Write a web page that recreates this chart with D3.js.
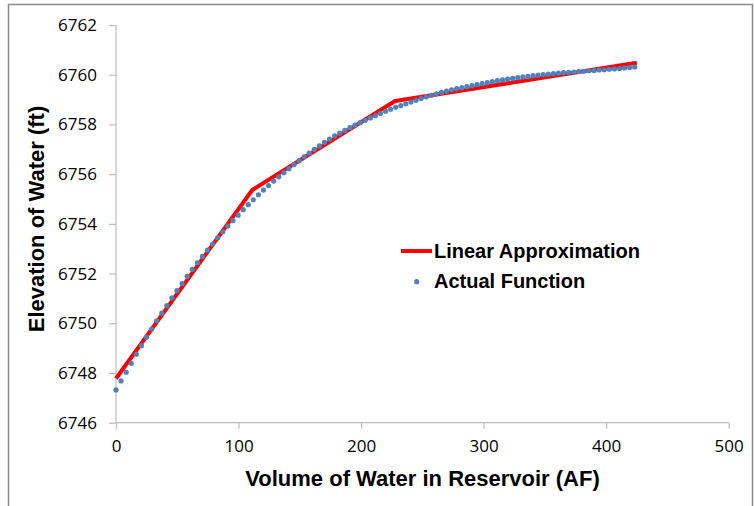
<!DOCTYPE html>
<meta charset="utf-8">
<head>
<title>Elevation vs Volume</title>
<script src="https://d3js.org/d3.v7.min.js"></script>
<style>
  body { margin: 0; background: #fff; }
  .tick text { font-family: "Open Sans", sans-serif; font-size: 17px; fill: #000; }
  .axis-title { font-family: "Liberation Sans", Arial, sans-serif; font-weight: bold; font-size: 22px; fill: #000; }
  .legend text { font-family: "Liberation Sans", Arial, sans-serif; font-weight: bold; font-size: 20px; fill: #000; }
</style>
</head>
<body>
<div id="chart"></div>
<script>
// actual function (dots)
var volume = [
  0, 4.15, 8.3, 12.45, 16.6, 20.75, 24.9, 29.05, 33.2, 37.35,
  41.5, 45.65, 49.8, 53.95, 58.1, 62.25, 66.4, 70.55, 74.7, 78.85,
  83, 87.15, 91.3, 95.45, 99.6, 103.75, 107.9, 112.05, 116.2, 120.35,
  124.5, 128.65, 132.8, 136.95, 141.1, 145.25, 149.4, 153.55, 157.7, 161.85,
  166, 170.15, 174.3, 178.45, 182.6, 186.75, 190.9, 195.05, 199.2, 203.35,
  207.5, 211.65, 215.8, 219.95, 224.1, 228.25, 232.4, 236.55, 240.7, 244.85,
  249, 253.15, 257.3, 261.45, 265.6, 269.75, 273.9, 278.05, 282.2, 286.35,
  290.5, 294.65, 298.8, 302.95, 307.1, 311.25, 315.4, 319.55, 323.7, 327.85,
  332, 336.15, 340.3, 344.45, 348.6, 352.75, 356.9, 361.05, 365.2, 369.35,
  373.5, 377.65, 381.8, 385.95, 390.1, 394.25, 398.4, 402.55, 406.7, 410.85,
  415, 419.15, 423.3
];
var elevation = [
  6747.32, 6747.68, 6748.03, 6748.39, 6748.75, 6749.10, 6749.44, 6749.77, 6750.10, 6750.41,
  6750.71, 6751.02, 6751.31, 6751.60, 6751.89, 6752.17, 6752.43, 6752.69, 6752.94, 6753.19,
  6753.44, 6753.68, 6753.91, 6754.13, 6754.35, 6754.57, 6754.77, 6754.97, 6755.17, 6755.36,
  6755.54, 6755.72, 6755.89, 6756.06, 6756.22, 6756.38, 6756.54, 6756.70, 6756.85, 6757.00,
  6757.14, 6757.28, 6757.41, 6757.54, 6757.65, 6757.76, 6757.87, 6757.97, 6758.07, 6758.17,
  6758.26, 6758.35, 6758.44, 6758.53, 6758.61, 6758.69, 6758.76, 6758.83, 6758.90, 6758.97,
  6759.04, 6759.11, 6759.17, 6759.23, 6759.29, 6759.34, 6759.39, 6759.44, 6759.48, 6759.52,
  6759.56, 6759.60, 6759.64, 6759.68, 6759.72, 6759.76, 6759.79, 6759.82, 6759.85, 6759.88,
  6759.91, 6759.93, 6759.96, 6759.98, 6760.00, 6760.02, 6760.04, 6760.06, 6760.08, 6760.10,
  6760.11, 6760.13, 6760.14, 6760.16, 6760.17, 6760.19, 6760.20, 6760.22, 6760.23, 6760.25,
  6760.27, 6760.29, 6760.31
];
// linear approximation (red)
var linVolume = [0, 111.2, 227.7, 425];
var linElevation = [6747.78, 6755.36, 6758.94, 6760.48];

var xTicks = [0, 100, 200, 300, 400, 500];
var yTicks = [6746, 6748, 6750, 6752, 6754, 6756, 6758, 6760, 6762];

var W = 755, H = 506;
var margin = {top: 25, right: 26.3, bottom: 83.3, left: 116};

var svg = d3.select("#chart").append("svg")
    .attr("width", W)
    .attr("height", H);

// outer frame
svg.append("rect")
    .attr("x", 8.5).attr("y", 4.5)
    .attr("width", 744).attr("height", 520)
    .attr("fill", "none")
    .attr("stroke", "#8a8a8a")
    .attr("stroke-width", 1.5);

var x = d3.scaleLinear().domain([0, 500]).range([margin.left, W - margin.right]);
var y = d3.scaleLinear().domain([6746, 6762]).range([H - margin.bottom, margin.top]);

var xAxis = svg.append("g")
    .attr("transform", "translate(0," + y(6746) + ")")
    .call(d3.axisBottom(x).tickValues(xTicks).tickSize(6).tickPadding(11).tickFormat(d3.format("d")));
var yAxis = svg.append("g")
    .attr("transform", "translate(" + x(0) + ",0)")
    .call(d3.axisLeft(y).tickValues(yTicks).tickSize(7).tickPadding(12).tickFormat(d3.format("d")));

svg.selectAll(".domain, .tick line").attr("stroke", "#bcbcbc").attr("stroke-width", 1.2);
xAxis.select(".domain").attr("d", "M" + x(0) + ",0H" + x(500));
yAxis.select(".domain").attr("d", "M0," + y(6746) + "V" + y(6762));

// red line
var lin = linVolume.map(function(v, i) { return [v, linElevation[i]]; });
svg.append("path")
    .datum(lin)
    .attr("fill", "none")
    .attr("stroke", "#ff0000")
    .attr("stroke-width", 4)
    .attr("stroke-linejoin", "round")
    .attr("d", d3.line().x(function(d) { return x(d[0]); }).y(function(d) { return y(d[1]); }));

// dots
svg.append("g").selectAll("circle")
    .data(volume)
    .enter()
    .append("circle")
    .attr("cx", function(d) { return x(d); })
    .attr("cy", function(d, i) { return y(elevation[i]); })
    .attr("r", 2.6)
    .attr("fill", "#4f81bd");

// axis titles
svg.append("text")
    .attr("class", "axis-title")
    .attr("x", 422.5).attr("y", 486)
    .attr("text-anchor", "middle")
    .text("Volume of Water in Reservoir (AF)");
svg.append("text")
    .attr("class", "axis-title")
    .attr("transform", "translate(44,219) rotate(-90)")
    .attr("text-anchor", "middle")
    .text("Elevation of Water (ft)");

// legend
var legend = svg.append("g").attr("class", "legend");
legend.append("line")
    .attr("x1", 401).attr("x2", 432)
    .attr("y1", 251).attr("y2", 251)
    .attr("stroke", "#ff0000").attr("stroke-width", 4);
legend.append("text").attr("x", 434).attr("y", 258).text("Linear Approximation");
legend.append("circle").attr("cx", 416.7).attr("cy", 281.7).attr("r", 2.6).attr("fill", "#4f81bd");
legend.append("text").attr("x", 434).attr("y", 288).text("Actual Function");
</script>
</body>
